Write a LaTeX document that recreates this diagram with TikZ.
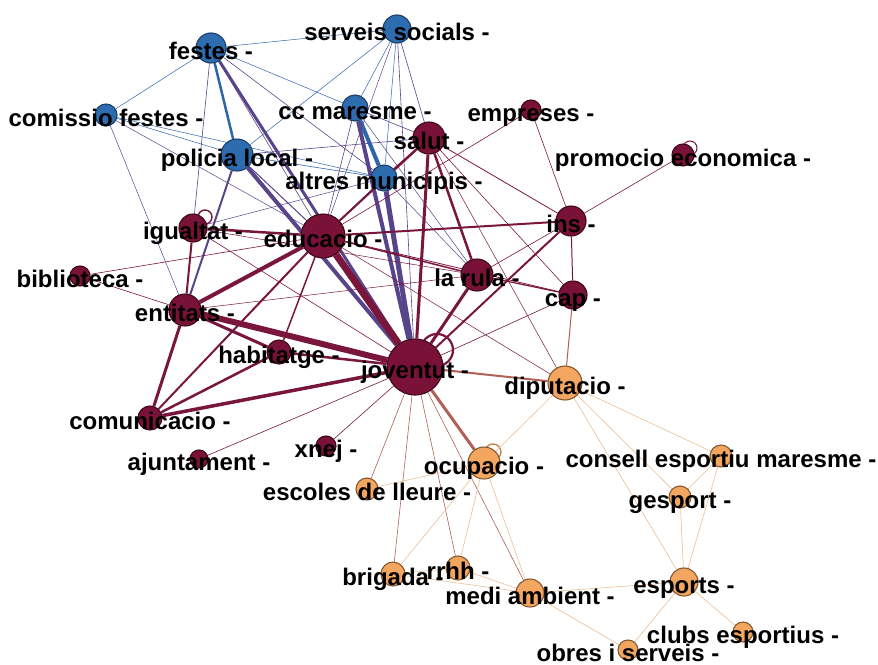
\documentclass[tikz,border=0pt]{standalone}
\usepackage{fontspec}
\setmainfont{Liberation Sans}
\definecolor{mF}{RGB}{122,18,56}
\definecolor{mB}{RGB}{62,8,28}
\definecolor{bF}{RGB}{46,108,176}
\definecolor{bB}{RGB}{28,62,104}
\definecolor{oF}{RGB}{243,166,96}
\definecolor{oB}{RGB}{130,88,48}
\definecolor{eM}{RGB}{122,22,60}
\definecolor{eB}{RGB}{46,100,170}
\definecolor{eP}{RGB}{88,68,138}
\definecolor{eMO}{RGB}{176,96,86}
\definecolor{eO}{RGB}{234,190,150}
\pgfdeclarelayer{bg}
\pgfsetlayers{bg,main}
\newcommand\lk[4]{\draw[line width=#3pt,color=#4] (#1) -- (#2);}
\begin{document}
\begin{tikzpicture}[x=1pt,y=-1pt,
  nd/.style={circle,line width=1.1pt,inner sep=0pt},
  mn/.style={nd,draw=mB,fill=mF},
  bn/.style={nd,draw=bB,fill=bF},
  on/.style={nd,draw=oB,fill=oF},
  lbl/.style={font=\bfseries\fontsize{24}{24}\selectfont,anchor=mid,yshift=-9pt,inner sep=0pt},
  loopM/.style={draw=eM,fill=none},
  loopO/.style={draw=oF!80!black,fill=none}]
\useasboundingbox (0,0) rectangle (878,664);
% nodes
\node[bn,minimum size=30pt] (fes) at (211,48) {};
\node[bn,minimum size=28pt] (ser) at (397,29) {};
\node[bn,minimum size=22pt] (com) at (106,115) {};
\node[bn,minimum size=26pt] (ccm) at (355,108) {};
\node[bn,minimum size=32pt] (pol) at (237,155) {};
\node[bn,minimum size=26pt] (alt) at (384,178) {};
\node[mn,minimum size=32pt] (sal) at (429,138) {};
\node[mn,minimum size=20pt] (emp) at (531,110) {};
\node[mn,minimum size=22pt] (pro) at (683,155) {};
\node[mn,minimum size=30pt] (ins) at (571,221) {};
\node[mn,minimum size=28pt] (igu) at (193,228) {};
\node[mn,minimum size=44pt] (edu) at (323,236) {};
\node[mn,minimum size=20pt] (bib) at (80,276) {};
\node[mn,minimum size=32pt] (rul) at (477,275) {};
\node[mn,minimum size=28pt] (cap) at (573,295) {};
\node[mn,minimum size=32pt] (ent) at (185,310) {};
\node[mn,minimum size=24pt] (hab) at (279,352) {};
\node[mn,minimum size=56pt] (jov) at (415,367) {};
\node[on,minimum size=34pt] (dip) at (565,383) {};
\node[mn,minimum size=24pt] (cmu) at (150,418) {};
\node[mn,minimum size=20pt] (xne) at (326,446) {};
\node[mn,minimum size=18pt] (aju) at (199,459) {};
\node[on,minimum size=32pt] (ocu) at (484,463) {};
\node[on,minimum size=22pt] (cem) at (721,456) {};
\node[on,minimum size=22pt] (esc) at (367,489) {};
\node[on,minimum size=22pt] (ges) at (680,497) {};
\node[on,minimum size=24pt] (bri) at (393,574) {};
\node[on,minimum size=24pt] (rrh) at (458,568) {};
\node[on,minimum size=28pt] (med) at (530,593) {};
\node[on,minimum size=28pt] (esp) at (684,582) {};
\node[on,minimum size=20pt] (clu) at (743,632) {};
\node[on,minimum size=20pt] (obr) at (628,650) {};
\begin{pgfonlayer}{bg}
% self loops
\draw[loopM,line width=2.2pt] (437,350) circle (16pt);
\draw[loopM,line width=1.4pt] (205,217) circle (7pt);
\draw[loopM,line width=1pt] (690,148) circle (7pt);
\draw[loopO,line width=1.4pt] (493,452) circle (8pt);
% blue-blue
\lk{fes}{ser}{0.5}{eB}
\lk{fes}{com}{0.5}{eB}
\lk{fes}{pol}{2.5}{eB}
\lk{fes}{ccm}{0.5}{eB}
\lk{fes}{alt}{0.6}{eP}
\lk{ser}{pol}{0.5}{eB}
\lk{ser}{ccm}{0.5}{eB}
\lk{ser}{alt}{0.5}{eB}
\lk{com}{pol}{0.5}{eB}
\lk{com}{alt}{0.5}{eB}
\lk{ccm}{alt}{4}{eB}
\lk{pol}{alt}{0.6}{eB}
% blue-maroon
\lk{fes}{jov}{3}{eP}
\lk{fes}{igu}{0.6}{eP}
\lk{fes}{edu}{0.6}{eP}
\lk{pol}{jov}{4}{eP}
\lk{pol}{ent}{2}{eP}
\lk{pol}{edu}{1}{eP}
\lk{pol}{sal}{0.6}{eP}
\lk{ccm}{jov}{4}{eP}
\lk{ccm}{edu}{0.6}{eP}
\lk{ccm}{sal}{0.6}{eP}
\lk{ccm}{rul}{0.5}{eP}
\lk{alt}{jov}{5}{eP}
\lk{alt}{sal}{2}{eM}
\lk{alt}{edu}{0.8}{eP}
\lk{alt}{igu}{0.5}{eP}
\lk{alt}{rul}{0.5}{eP}
\lk{ser}{jov}{0.6}{eP}
\lk{ser}{sal}{0.6}{eP}
\lk{ser}{edu}{0.5}{eP}
\lk{com}{ent}{0.5}{eP}
\lk{com}{edu}{0.5}{eP}
% maroon-maroon
\lk{edu}{jov}{7}{eM}
\lk{ent}{jov}{6}{eM}
\lk{edu}{ent}{4}{eM}
\lk{edu}{cmu}{2}{eM}
\lk{ent}{cmu}{3}{eM}
\lk{cmu}{jov}{3.5}{eM}
\lk{cmu}{hab}{2.5}{eM}
\lk{ent}{hab}{3}{eM}
\lk{hab}{jov}{2.5}{eM}
\lk{edu}{hab}{1.5}{eM}
\lk{igu}{edu}{2.5}{eM}
\lk{igu}{ent}{2}{eM}
\lk{igu}{jov}{0.6}{eM}
\lk{igu}{rul}{0.5}{eM}
\lk{bib}{ent}{0.6}{eM}
\lk{bib}{edu}{0.6}{eM}
\lk{sal}{jov}{3}{eM}
\lk{sal}{edu}{2}{eM}
\lk{sal}{rul}{2.5}{eM}
\lk{sal}{ins}{0.8}{eM}
\lk{sal}{cap}{0.6}{eM}
\lk{sal}{dip}{0.5}{eM}
\lk{rul}{jov}{3}{eM}
\lk{ins}{jov}{2}{eM}
\lk{ins}{edu}{2}{eM}
\lk{ins}{rul}{0.6}{eM}
\lk{edu}{rul}{1.5}{eM}
\lk{edu}{cap}{0.8}{eM}
\lk{rul}{cap}{1.2}{eM}
\lk{ins}{cap}{1}{eM}
\lk{emp}{ins}{0.6}{eM}
\lk{emp}{edu}{0.6}{eM}
\lk{pro}{ins}{0.6}{eM}
\lk{cap}{jov}{0.6}{eM}
\lk{xne}{jov}{0.6}{eM}
\lk{aju}{jov}{0.6}{eM}
\lk{ent}{rul}{0.5}{eM}
\lk{edu}{dip}{0.5}{eM}
% maroon-orange
\lk{jov}{dip}{2}{eMO}
\lk{jov}{ocu}{3}{eMO}
\lk{jov}{esc}{0.6}{eMO}
\lk{jov}{bri}{0.6}{eMO}
\lk{jov}{rrh}{0.6}{eMO}
\lk{jov}{med}{0.6}{eMO}
\lk{cap}{dip}{1}{eMO}
% orange-orange
\lk{dip}{ocu}{0.6}{eO}
\lk{dip}{cem}{0.6}{eO}
\lk{dip}{ges}{0.6}{eO}
\lk{dip}{esp}{0.6}{eO}
\lk{ocu}{esc}{0.6}{eO}
\lk{ocu}{bri}{0.6}{eO}
\lk{ocu}{rrh}{0.6}{eO}
\lk{ocu}{med}{0.6}{eO}
\lk{bri}{rrh}{0.6}{eO}
\lk{bri}{med}{0.6}{eO}
\lk{rrh}{med}{0.6}{eO}
\lk{med}{esp}{0.6}{eO}
\lk{med}{obr}{0.6}{eO}
\lk{esp}{ges}{0.6}{eO}
\lk{esp}{cem}{0.6}{eO}
\lk{ges}{cem}{0.6}{eO}
\lk{esp}{clu}{0.6}{eO}
\lk{esp}{obr}{0.6}{eO}
\end{pgfonlayer}
% labels
\node[lbl] (fes-l) at (fes) {festes -};
\node[lbl] (ser-l) at (ser) {serveis socials -};
\node[lbl] (com-l) at (com) {comissio festes -};
\node[lbl] (ccm-l) at (ccm) {cc maresme -};
\node[lbl] (pol-l) at (pol) {policia local -};
\node[lbl] (alt-l) at (alt) {altres municipis -};
\node[lbl] (sal-l) at (sal) {salut -};
\node[lbl] (emp-l) at (emp) {empreses -};
\node[lbl] (pro-l) at (pro) {promocio economica -};
\node[lbl] (ins-l) at (ins) {ins -};
\node[lbl] (igu-l) at (igu) {igualtat -};
\node[lbl] (edu-l) at (edu) {educacio -};
\node[lbl] (bib-l) at (bib) {biblioteca -};
\node[lbl] (rul-l) at (rul) {la rula -};
\node[lbl] (cap-l) at (cap) {cap -};
\node[lbl] (ent-l) at (ent) {entitats -};
\node[lbl] (hab-l) at (hab) {habitatge -};
\node[lbl] (jov-l) at (jov) {joventut -};
\node[lbl] (dip-l) at (dip) {diputacio -};
\node[lbl] (cmu-l) at (cmu) {comunicacio -};
\node[lbl] (xne-l) at (xne) {xnej -};
\node[lbl] (aju-l) at (aju) {ajuntament -};
\node[lbl] (ocu-l) at (ocu) {ocupacio -};
\node[lbl] (cem-l) at (cem) {consell esportiu maresme -};
\node[lbl] (esc-l) at (esc) {escoles de lleure -};
\node[lbl] (ges-l) at (ges) {gesport -};
\node[lbl] (bri-l) at (bri) {brigada -};
\node[lbl] (rrh-l) at (rrh) {rrhh -};
\node[lbl] (med-l) at (med) {medi ambient -};
\node[lbl] (esp-l) at (esp) {esports -};
\node[lbl] (clu-l) at (clu) {clubs esportius -};
\node[lbl] (obr-l) at (obr) {obres i serveis -};
\end{tikzpicture}
\end{document}
